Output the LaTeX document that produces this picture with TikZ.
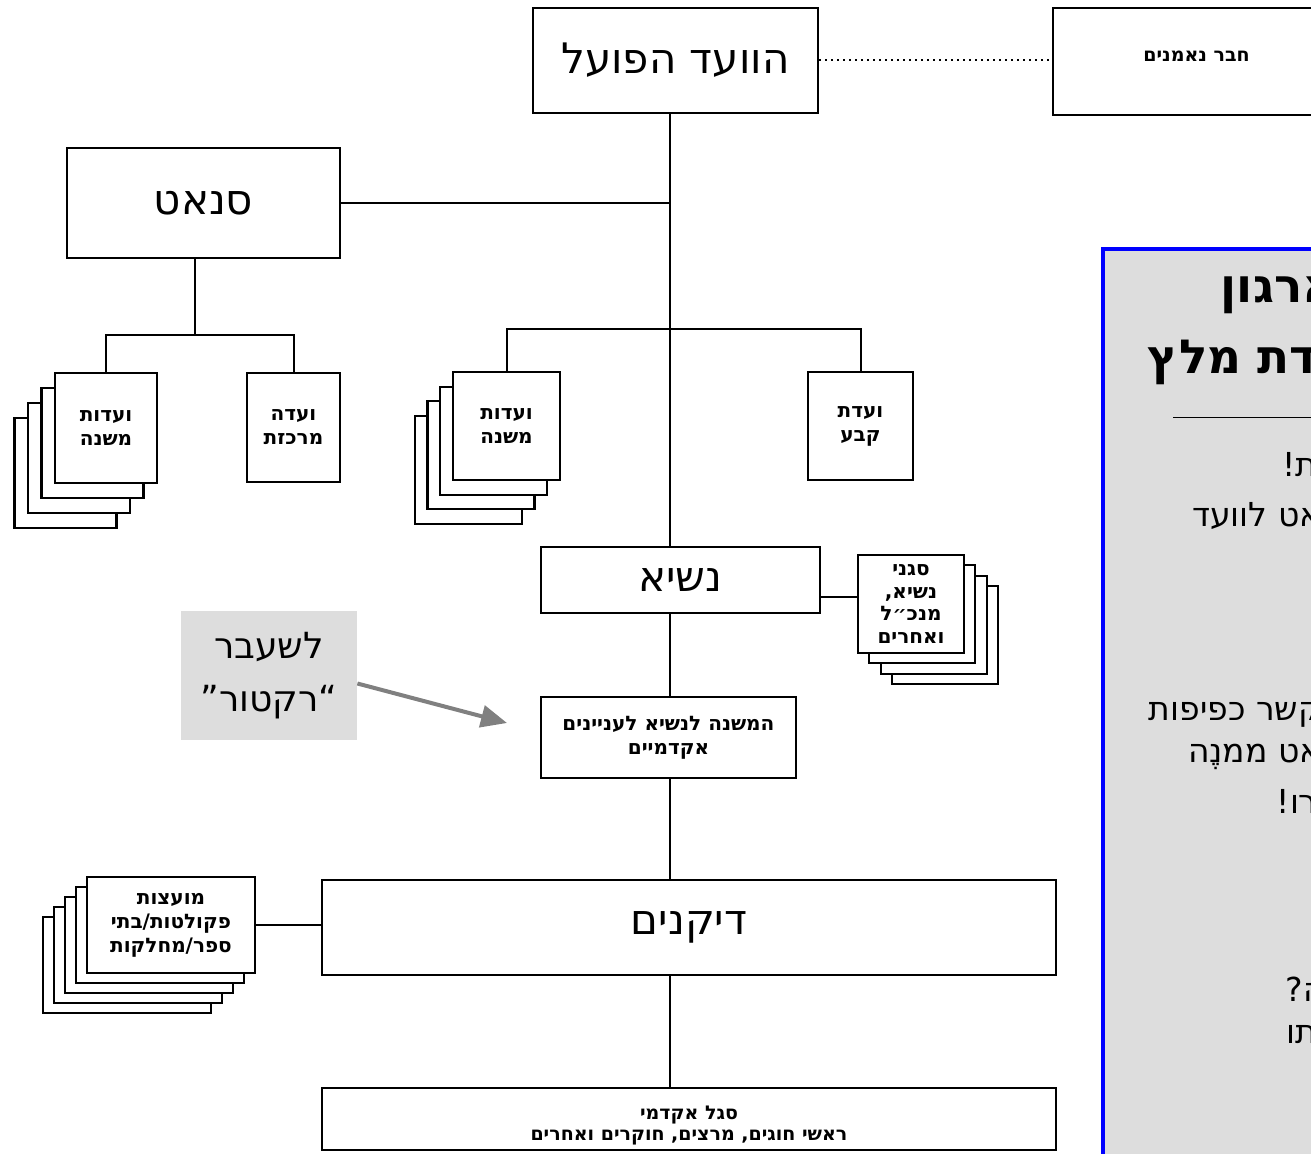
\documentclass[tikz,border=0pt]{standalone}
\usepackage{fontspec}
\usetikzlibrary{arrows.meta}
\newfontfamily\hebfont[Script=Hebrew]{DejaVu Sans}
\TeXXeTstate=1
\newcommand{\heb}[1]{\beginR #1\endR}
\definecolor{notegray}{RGB}{221,221,221}
\definecolor{arrowgray}{RGB}{128,128,128}

\begin{document}
\begin{tikzpicture}[x=0.5pt, y=-0.5pt,
  box/.style={draw, line width=1.2pt, fill=white, inner sep=0pt, font=\hebfont\fontsize{21}{25}\selectfont},
  small/.style={draw, line width=1.1pt, fill=white, inner sep=0pt, align=center, font=\hebfont\bfseries\fontsize{10}{12}\selectfont},
  layer/.style={draw, line width=1.1pt, fill=white},
  line/.style={line width=1pt},
  ptitle/.style={anchor=east, inner sep=0pt, font=\hebfont\bfseries\fontsize{23.5}{28}\selectfont},
  pbody/.style={anchor=east, inner sep=0pt, font=\hebfont\fontsize{16.5}{20}\selectfont}]
\useasboundingbox (0,0) rectangle (1311,1154);
\clip (0,0) rectangle (1311,1154);

\draw[blue, line width=2pt, fill=notegray] (1103,249) rectangle (1340,1180);

\node[box, minimum width=142.5pt, minimum height=52.5pt] (vaad) at (675.5,60.5) {\heb{הוועד הפועל}};
\node[box, minimum width=143.5pt, minimum height=53.5pt, font=\hebfont\bfseries\fontsize{9.5}{11}\selectfont] (neemanim) at (1196.5,61.5) {\raisebox{5.5pt}{\heb{חבר נאמנים}}};
\node[box, minimum width=136.5pt, minimum height=55pt] (senat) at (203.5,203) {\heb{סנאט}};

\draw[layer] (14.5,418) rectangle (116.5,528);
\draw[layer] (28,403) rectangle (130,513);
\draw[layer] (41.5,388) rectangle (143.5,498);
\node[small, minimum width=51pt, minimum height=55pt] (mishneA) at (106,428) {\heb{ועדות}\\\heb{משנה}};
\node[small, minimum width=46.5pt, minimum height=54.5pt] (merakezet) at (293.5,427.5) {\heb{ועדה}\\\heb{מרכזת}};

\draw[layer] (415,416) rectangle (522,524);
\draw[layer] (427.5,401) rectangle (534.5,509);
\draw[layer] (440,387) rectangle (547,495);
\node[small, minimum width=53.5pt, minimum height=54pt] (mishneB) at (506.5,426) {\heb{ועדות}\\\heb{משנה}};
\node[small, minimum width=52.5pt, minimum height=54pt] (keva) at (860.5,426) {\heb{ועדת}\\\heb{קבע}};

\node[box, minimum width=139.5pt, minimum height=33pt] (nasi) at (680.5,580) {\heb{נשיא}};

\draw[layer] (892,586) rectangle (998,684);
\draw[layer] (881,576) rectangle (987,674);
\draw[layer] (869,565) rectangle (975,663);
\node[small, minimum width=53pt, minimum height=49pt, font=\hebfont\bfseries\fontsize{10}{11.3}\selectfont] (sganim) at (911,604) {\heb{סגני}\\\heb{נשיא,}\\\heb{מנכ״ל}\\\heb{ואחרים}};

\node[small, minimum width=127.5pt, minimum height=40.5pt] (mishnenasi) at (668.5,737.5) {\heb{המשנה לנשיא לעניינים}\\\heb{אקדמיים}};

\node[fill=notegray, minimum width=88pt, minimum height=64.5pt, inner sep=0pt, align=center, font=\hebfont\fontsize{18}{26.5}\selectfont] (note) at (269,675.5) {\heb{לשעבר}\\\heb{“רקטור”}};
\coordinate (tip) at (507,723);
\draw[arrowgray, line width=2pt, -{Triangle[length=13pt,width=11pt]}] ([yshift=-4pt]note.east) -- (tip);

\node[box, minimum width=367pt, minimum height=47.5pt] (dikanim) at (689,927.5) {\heb{דיקנים}};

\draw[layer] (43,917) rectangle (211,1013);
\draw[layer] (54,907) rectangle (222,1003);
\draw[layer] (65,897) rectangle (233,993);
\draw[layer] (76,887) rectangle (244,983);
\node[small, minimum width=84pt, minimum height=48pt] (moatzot) at (171,925) {\heb{מועצות}\\\heb{פקולטות/בתי}\\\heb{ספר/מחלקות}};

\node[box, minimum width=367pt, minimum height=31pt] (sgal) at (689,1119) {};
\node[small, draw=none, fill=none, font=\hebfont\bfseries\fontsize{9.5}{10.5}\selectfont] (sgaltxt) at (689,1126) {\heb{סגל אקדמי}\\\heb{ראשי חוגים, מרצים, חוקרים ואחרים}};

\coordinate (trunk) at (670,0);
\coordinate (brA) at (195,335);
\draw[line] (vaad.south -| trunk) -- (nasi.north -| trunk);
\draw[line] (nasi.south -| trunk) -- (mishnenasi.north -| trunk);
\draw[line] (mishnenasi.south -| trunk) -- (dikanim.north -| trunk);
\draw[line] (dikanim.south -| trunk) -- (sgal.north -| trunk);
\draw[line] (senat.east) -- (senat.east -| trunk);
\draw[line] (senat.south -| brA) -- (brA);
\draw[line] (mishneA.north) |- (brA) -| (merakezet.north);
\draw[line] (mishneB.north) -- ++(0,-42) -| (keva.north);
\draw[line] ([yshift=3.5pt]sganim.west) -- ([yshift=3.5pt]sganim.west -| nasi.east);
\draw[line] (moatzot.east) -- (moatzot.east -| dikanim.west);
\draw[line, dotted] (vaad.east) -- (vaad.east -| neemanim.west);

\node[ptitle] (t1) at (1337,295) {\heb{ארגון}};
\node[ptitle] (t2) at (1318,362) {\heb{דת מלץ}};
\draw (1173,417) -- (1330,417);
\node[pbody] (t3) at (1318,465) {\heb{ת!}};
\node[pbody] (t4) at (1322,516) {\heb{אט לוועד}};
\node[pbody] (t5) at (1322,715) {\heb{קשר כפיפות}};
\node[pbody] (t6) at (1322,757) {\heb{אט ממנֶה}};
\node[pbody] (t7) at (1318,801) {\heb{רו!}};
\node[pbody] (t8) at (1325,989) {\heb{ה?}};
\node[pbody] (t9) at (1318,1035) {\heb{תו}};
\end{tikzpicture}
\end{document}
